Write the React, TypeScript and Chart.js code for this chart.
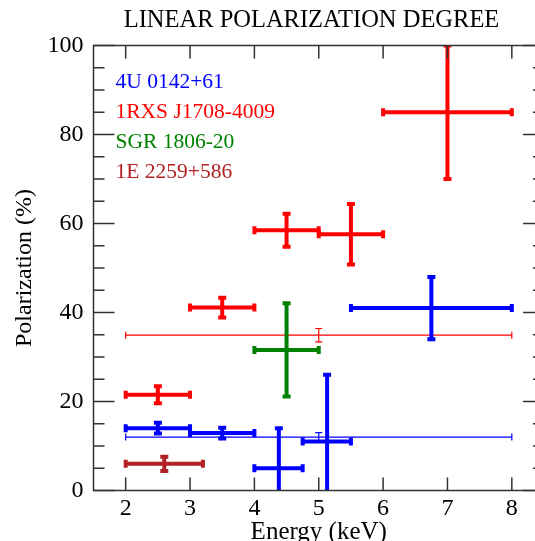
import React, { useEffect, useRef } from 'react';
import { Chart, registerables } from 'chart.js';

Chart.register(...registerables);

const FONT = "'Liberation Serif', 'Times New Roman', serif";

const titleText = 'LINEAR POLARIZATION DEGREE';
const xAxisTitle = 'Energy (keV)';
const yAxisTitle = 'Polarization (%)';

const xTickValues = [2, 3, 4, 5, 6, 7, 8];
const yTickValues = [0, 20, 40, 60, 80, 100];
const yMinorTickValues = [5, 10, 15, 25, 30, 35, 45, 50, 55, 65, 70, 75, 85, 90, 95];

const sourceNames = ['4U 0142+61', '1RXS J1708-4009', 'SGR 1806-20', '1E 2259+586'];
const sourceColors = ['#0000ff', '#ff0000', '#008000', '#b22222'];

// 4U 0142+61 (energy-resolved)
const blueX = [2.5, 3.5, 4.38, 5.13, 6.75];
const blueXLow = [2, 3, 4, 4.75, 5.5];
const blueXHigh = [3, 4, 4.75, 5.5, 8];
const blueY = [14, 12.9, 5, 11, 41];
const blueYErr = [1.2, 1.2, 9, 15, 7];

// 4U 0142+61 (2-8 keV)
const blueAllX = [5];
const blueAllXLow = [2];
const blueAllXHigh = [8];
const blueAllY = [12];
const blueAllYErr = [1];

// 1RXS J1708-4009 (energy-resolved)
const redX = [2.5, 3.5, 4.5, 5.5, 7];
const redXLow = [2, 3, 4, 5, 6];
const redXHigh = [3, 4, 5, 6, 8];
const redY = [21.5, 41.1, 58.5, 57.6, 85];
const redYErr = [1.9, 2.2, 3.7, 6.8, 15];

// 1RXS J1708-4009 (2-8 keV)
const redAllX = [5];
const redAllXLow = [2];
const redAllXHigh = [8];
const redAllY = [34.9];
const redAllYErr = [1.5];

// SGR 1806-20
const greenX = [4.5];
const greenXLow = [4];
const greenXHigh = [5];
const greenY = [31.6];
const greenYErr = [10.5];

// 1E 2259+586
const darkRedX = [2.6];
const darkRedXLow = [2];
const darkRedXHigh = [3.2];
const darkRedY = [6];
const darkRedYErr = [1.6];

function makeDataset(label: string, color: string, xs: number[], xl: number[], xh: number[], ys: number[], ye: number[], width: number, cap: number) {
  return {
    label,
    data: xs.map((x, i) => ({ x, y: ys[i] })),
    xLow: xl,
    xHigh: xh,
    yErr: ye,
    barWidth: width,
    capLen: cap,
    borderColor: color,
    backgroundColor: color,
    pointRadius: 0,
    showLine: false,
  };
}

const errorBarsPlugin = {
  id: 'errorBars',
  afterDatasetsDraw(chart: any) {
    const { ctx, chartArea, scales } = chart;
    const xs = scales.x;
    const ys = scales.y;
    ctx.save();
    ctx.beginPath();
    ctx.rect(chartArea.left, chartArea.top, chartArea.right - chartArea.left, chartArea.bottom - chartArea.top);
    ctx.clip();
    ctx.lineCap = 'butt';
    chart.data.datasets.forEach((ds: any) => {
      ctx.strokeStyle = ds.borderColor;
      ctx.lineWidth = ds.barWidth;
      const c = ds.capLen / 2;
      ds.data.forEach((p: any, i: number) => {
        const px = xs.getPixelForValue(p.x);
        const py = ys.getPixelForValue(p.y);
        const xl = xs.getPixelForValue(ds.xLow[i]);
        const xh = xs.getPixelForValue(ds.xHigh[i]);
        const yl = ys.getPixelForValue(p.y - ds.yErr[i]);
        const yh = ys.getPixelForValue(p.y + ds.yErr[i]);
        ctx.beginPath();
        ctx.moveTo(xl, py);
        ctx.lineTo(xh, py);
        ctx.moveTo(px, yl);
        ctx.lineTo(px, yh);
        // caps
        ctx.moveTo(xl, py - c);
        ctx.lineTo(xl, py + c);
        ctx.moveTo(xh, py - c);
        ctx.lineTo(xh, py + c);
        ctx.moveTo(px - c, yl);
        ctx.lineTo(px + c, yl);
        ctx.moveTo(px - c, yh);
        ctx.lineTo(px + c, yh);
        ctx.stroke();
      });
    });
    ctx.restore();
  },
};

const framePlugin = {
  id: 'frame',
  afterDraw(chart: any) {
    const { ctx, chartArea, scales } = chart;
    const { left, right, top, bottom } = chartArea;
    const xs = scales.x;
    const ys = scales.y;
    ctx.save();
    ctx.strokeStyle = '#333333';
    ctx.lineWidth = 1.5;
    ctx.strokeRect(left, top, right - left, bottom - top);
    ctx.beginPath();
    xTickValues.forEach((v) => {
      const px = xs.getPixelForValue(v);
      ctx.moveTo(px, bottom);
      ctx.lineTo(px, bottom - 13);
      ctx.moveTo(px, top);
      ctx.lineTo(px, top + 13);
    });
    yTickValues.forEach((v) => {
      const py = ys.getPixelForValue(v);
      ctx.moveTo(left, py);
      ctx.lineTo(left + 21, py);
      ctx.moveTo(right, py);
      ctx.lineTo(right - 21, py);
    });
    yMinorTickValues.forEach((v) => {
      const py = ys.getPixelForValue(v);
      ctx.moveTo(left, py);
      ctx.lineTo(left + 11, py);
      ctx.moveTo(right, py);
      ctx.lineTo(right - 11, py);
    });
    ctx.stroke();

    // title
    ctx.fillStyle = '#000000';
    ctx.font = `24.5px ${FONT}`;
    ctx.textAlign = 'center';
    ctx.textBaseline = 'middle';
    ctx.fillText(titleText, 311.5, 21);

    // legend text
    ctx.font = `21.5px ${FONT}`;
    ctx.textAlign = 'left';
    sourceNames.forEach((name, i) => {
      ctx.fillStyle = sourceColors[i];
      ctx.fillText(name, left + 22, top + 37 + i * 30);
    });
    ctx.restore();
  },
};

export default function App() {
  const canvasRef = useRef<HTMLCanvasElement | null>(null);

  useEffect(() => {
    if (!canvasRef.current) return;
    const chart = new Chart(canvasRef.current, {
      type: 'scatter',
      data: {
        datasets: [
          makeDataset('4U 0142+61 (2-8 keV)', sourceColors[0], blueAllX, blueAllXLow, blueAllXHigh, blueAllY, blueAllYErr, 1.2, 7),
          makeDataset('1RXS J1708-4009 (2-8 keV)', sourceColors[1], redAllX, redAllXLow, redAllXHigh, redAllY, redAllYErr, 1.2, 7),
          makeDataset(sourceNames[0], sourceColors[0], blueX, blueXLow, blueXHigh, blueY, blueYErr, 4, 8),
          makeDataset(sourceNames[1], sourceColors[1], redX, redXLow, redXHigh, redY, redYErr, 4, 8),
          makeDataset(sourceNames[2], sourceColors[2], greenX, greenXLow, greenXHigh, greenY, greenYErr, 4, 8),
          makeDataset(sourceNames[3], sourceColors[3], darkRedX, darkRedXLow, darkRedXHigh, darkRedY, darkRedYErr, 4, 8),
        ] as any,
      },
      options: {
        responsive: true,
        maintainAspectRatio: false,
        animation: false,
        layout: { padding: { top: 45.5, left: 0, right: 16, bottom: 0 } },
        plugins: {
          legend: { display: false },
          tooltip: { enabled: false },
          title: { display: false },
        },
        scales: {
          x: {
            type: 'linear',
            position: 'bottom',
            min: 1.5,
            max: 8.5,
            afterBuildTicks: (s: any) => {
              s.ticks = xTickValues.map((v) => ({ value: v }));
            },
            afterFit: (s: any) => {
              s.height = 79.5;
            },
            grid: { display: false, drawTicks: false },
            border: { display: false },
            ticks: {
              autoSkip: false,
              maxRotation: 0,
              padding: 4,
              color: '#000000',
              font: { family: FONT, size: 24 },
            },
            title: {
              display: true,
              text: xAxisTitle,
              color: '#000000',
              font: { family: FONT, size: 25 },
              padding: { top: 0, bottom: 23 },
            },
          },
          y: {
            type: 'linear',
            min: 0,
            max: 100,
            afterBuildTicks: (s: any) => {
              s.ticks = yTickValues.map((v) => ({ value: v }));
            },
            afterFit: (s: any) => {
              s.width = 93.5;
            },
            grid: { display: false, drawTicks: false },
            border: { display: false },
            ticks: {
              padding: 10,
              color: '#000000',
              font: { family: FONT, size: 24 },
            },
            title: {
              display: true,
              text: yAxisTitle,
              color: '#000000',
              font: { family: FONT, size: 24 },
              padding: { top: 10, bottom: 0 },
            },
          },
        },
      } as any,
      plugins: [errorBarsPlugin, framePlugin],
    });
    return () => chart.destroy();
  }, []);

  return (
    <div style={{ position: 'fixed', left: 0, top: 0, width: 535, height: 541, overflow: 'hidden', background: '#ffffff' }}>
      <div style={{ position: 'relative', width: 560, height: 570 }}>
        <canvas ref={canvasRef} />
      </div>
    </div>
  );
}
